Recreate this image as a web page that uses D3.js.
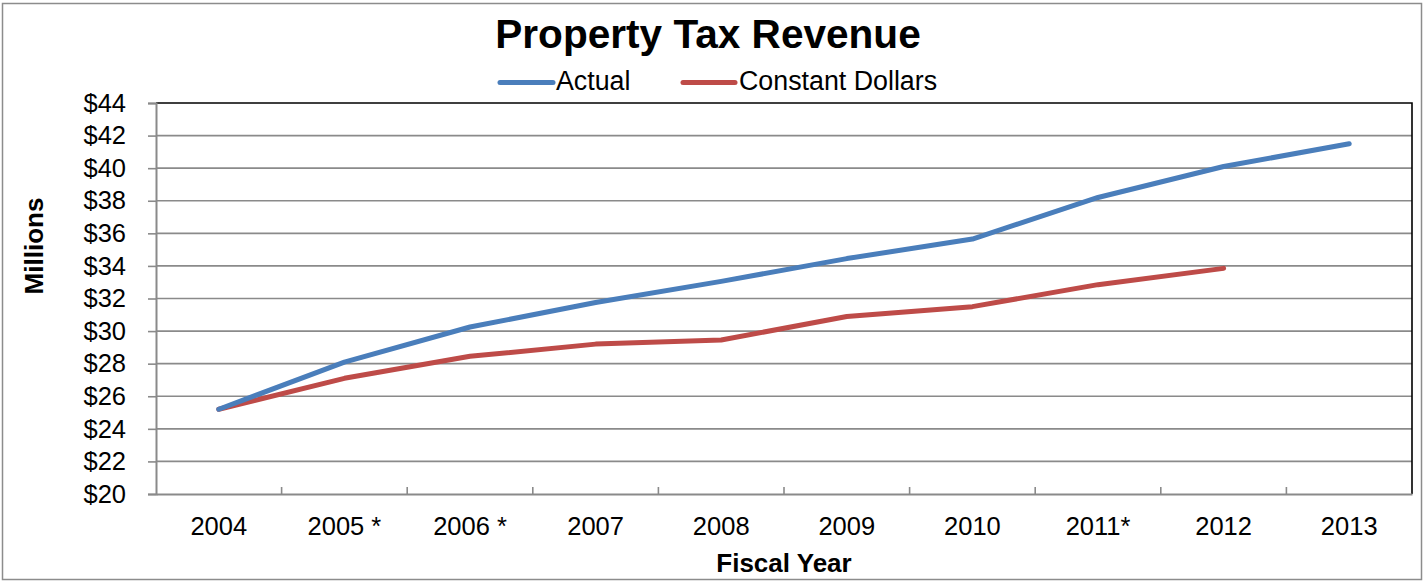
<!DOCTYPE html>
<html>
<head>
<meta charset="utf-8">
<script src="https://cdn.jsdelivr.net/npm/d3@7"></script>
<style>
  html, body { margin: 0; padding: 0; background: #fff; }
  svg { display: block; font-family: "Liberation Sans", Arial, sans-serif; }
</style>
</head>
<body>
<svg id="chart" width="1424" height="582"></svg>
<script>
const categories = ["2004", "2005 *", "2006 *", "2007", "2008", "2009", "2010", "2011*", "2012", "2013"];
const actualValues = [25.2, 28.1, 30.25, 31.75, 33.05, 34.45, 35.65, 38.2, 40.1, 41.5];
const constantValues = [25.2, 27.1, 28.45, 29.2, 29.45, 30.9, 31.5, 32.85, 33.85, null];
const yTickValues = [20, 22, 24, 26, 28, 30, 32, 34, 36, 38, 40, 42, 44];
const seriesNames = ["Actual", "Constant Dollars"];
const seriesColors = ["#4A7EBB", "#BE4B48"];

const svg = d3.select("#chart");
const W = 1424, H = 582;
const plot = { left: 156, right: 1412, top: 103, bottom: 494 };

// outer border
svg.append("rect").attr("x", 2.5).attr("y", 3.5).attr("width", W - 5).attr("height", H - 6)
  .attr("fill", "#fff").attr("stroke", "#8c8c8c").attr("stroke-width", 1.5);

const x = d3.scaleBand().domain(categories).range([plot.left, plot.right]).paddingInner(0).paddingOuter(0);
const y = d3.scaleLinear().domain([20, 44]).range([plot.bottom, plot.top]);

// gridlines
const grid = svg.append("g");
grid.selectAll("line").data(yTickValues.filter(v => v > 20 && v < 44)).join("line")
  .attr("x1", plot.left).attr("x2", plot.right)
  .attr("y1", d => y(d)).attr("y2", d => y(d))
  .attr("stroke", "#8a8a8a").attr("stroke-width", 1.6);

// top and right border (black)
svg.append("path")
  .attr("d", `M${plot.left},${y(44)} H${plot.right} V${plot.bottom}`)
  .attr("fill", "none").attr("stroke", "#000").attr("stroke-width", 1.6);

// y axis
const yAxis = d3.axisLeft(y).tickValues(yTickValues).tickFormat(d => "$" + d).tickSize(8).tickPadding(22);
const gy = svg.append("g").attr("transform", `translate(${plot.left},0)`).call(yAxis);
gy.select(".domain").attr("stroke", "#8a8a8a").attr("stroke-width", 2);
gy.selectAll(".tick line").attr("stroke", "#8a8a8a").attr("stroke-width", 1.6);
gy.selectAll(".tick text").attr("font-size", 25.5).attr("fill", "#000")
  .attr("font-family", "'Liberation Sans', Arial, sans-serif");

// x axis
const xAxis = d3.axisBottom(x).tickSize(0).tickPadding(23);
const gx = svg.append("g").attr("transform", `translate(0,${plot.bottom})`).call(xAxis);
gx.select(".domain").attr("stroke", "#8a8a8a").attr("stroke-width", 2);
gx.selectAll(".tick text").attr("font-size", 25.5).attr("fill", "#000")
  .attr("font-family", "'Liberation Sans', Arial, sans-serif");
// band boundary ticks (pointing up inside)
const bounds = categories.slice(1).map(c => x(c));
svg.append("g").selectAll("line").data(bounds).join("line")
  .attr("x1", d => d).attr("x2", d => d)
  .attr("y1", plot.bottom).attr("y2", plot.bottom - 7)
  .attr("stroke", "#8a8a8a").attr("stroke-width", 1.6);

// lines
const cx = c => x(c) + x.bandwidth() / 2;
const mkLine = vals => d3.line()
  .defined((d, i) => vals[i] != null)
  .x((d, i) => cx(categories[i]))
  .y((d, i) => y(vals[i]));

[constantValues, actualValues].forEach((vals, k) => {
  const idx = k === 0 ? 1 : 0;
  svg.append("path")
    .datum(vals)
    .attr("d", mkLine(vals))
    .attr("fill", "none")
    .attr("stroke", seriesColors[idx])
    .attr("stroke-width", 5)
    .attr("stroke-linecap", "round")
    .attr("stroke-linejoin", "round");
});

// title
svg.append("text").attr("x", 708).attr("y", 48).attr("text-anchor", "middle")
  .attr("font-size", 40.6).attr("font-weight", "bold").text("Property Tax Revenue");

// legend
const legendItems = [
  { name: seriesNames[0], color: seriesColors[0], x1: 500, x2: 553, tx: 556 },
  { name: seriesNames[1], color: seriesColors[1], x1: 683, x2: 735, tx: 739 }
];
const lg = svg.append("g");
legendItems.forEach(it => {
  lg.append("line").attr("x1", it.x1).attr("x2", it.x2).attr("y1", 82.5).attr("y2", 82.5)
    .attr("stroke", it.color).attr("stroke-width", 5).attr("stroke-linecap", "round");
  lg.append("text").attr("x", it.tx).attr("y", 90).attr("font-size", 26.8).text(it.name);
});

// axis titles
svg.append("text").attr("x", 784).attr("y", 572).attr("text-anchor", "middle")
  .attr("font-size", 26).attr("font-weight", "bold").text("Fiscal Year");
svg.append("text").attr("transform", "translate(43,246) rotate(-90)").attr("text-anchor", "middle")
  .attr("font-size", 26).attr("font-weight", "bold").text("Millions");
</script>
</body>
</html>
